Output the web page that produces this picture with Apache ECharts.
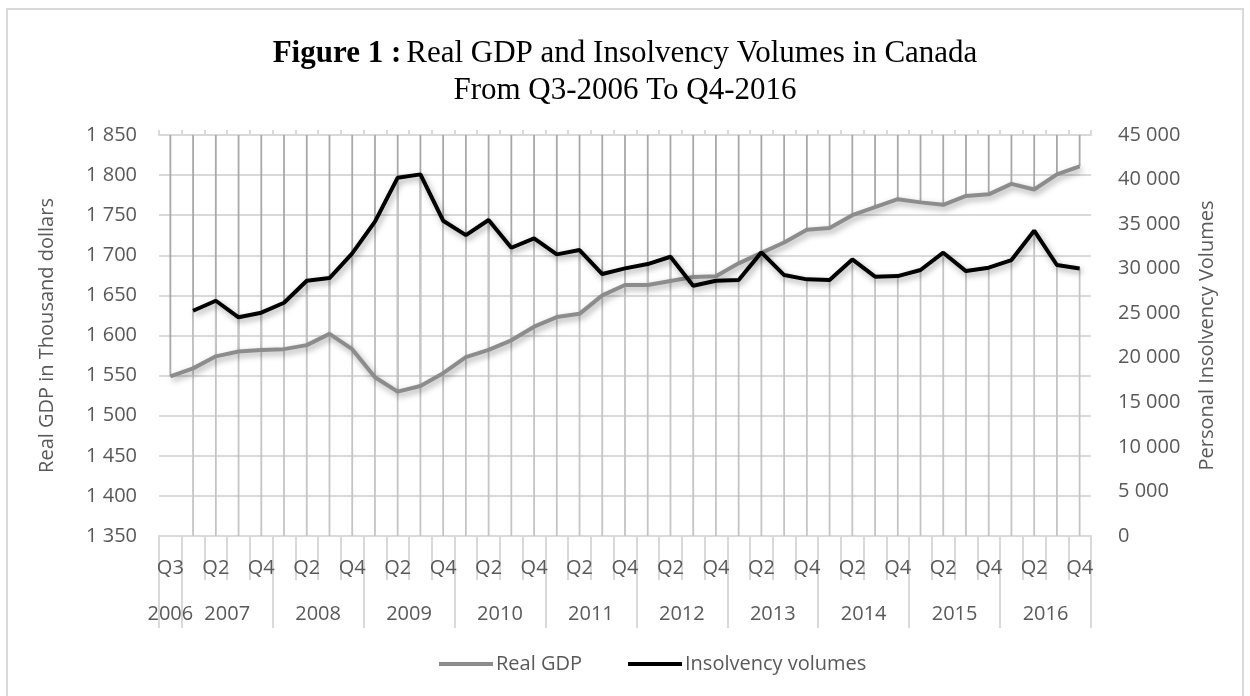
<!DOCTYPE html>
<html><head><meta charset="utf-8">
<script src="https://cdn.jsdelivr.net/npm/echarts@6/dist/echarts.min.js"></script>
<style>
html,body{margin:0;padding:0;background:#fff;}
#frame{position:absolute;left:6px;top:8px;width:1238px;height:700px;border:2px solid #d9d9d9;box-sizing:border-box;}
#chart{position:absolute;left:0;top:0;width:1250px;height:696px;}
</style>
</head><body>
<div id="frame"></div>
<div id="chart"></div>
<script>
// ---- data ----
const quarters = ['Q3',
  'Q1','Q2','Q3','Q4', 'Q1','Q2','Q3','Q4', 'Q1','Q2','Q3','Q4', 'Q1','Q2','Q3','Q4',
  'Q1','Q2','Q3','Q4', 'Q1','Q2','Q3','Q4', 'Q1','Q2','Q3','Q4', 'Q1','Q2','Q3','Q4',
  'Q1','Q2','Q3','Q4', 'Q1','Q2','Q3','Q4'];
const years = ['2006','2007','2008','2009','2010','2011','2012','2013','2014','2015','2016'];
const realGDP = [1549, 1559, 1574, 1580, 1582, 1583, 1588, 1602, 1583, 1548,
  1530, 1537, 1553, 1573, 1582, 1594, 1611, 1623, 1627, 1650,
  1663, 1663, 1668, 1673, 1674, 1690, 1703, 1716, 1732, 1734,
  1750, 1760, 1770, 1766, 1763, 1774, 1776, 1789, 1782, 1801, 1811];
const insolvency = [null, 25280, 26400, 24540, 25060, 26180, 28650, 28950, 31720, 35270,
  40210, 40580, 35380, 33770, 35460, 32350, 33400, 31600, 32090, 29400,
  30030, 30520, 31340, 28090, 28650, 28720, 31830, 29280, 28800, 28720,
  31040, 29100, 29170, 29850, 31790, 29730, 30110, 30970, 34260, 30410, 30030];
const leftTicks = {min: 1350, max: 1850, step: 50};
const rightTicks = {min: 0, max: 45000, step: 5000};
const titleBold = 'Figure 1 :';
const titleLine1 = 'Real GDP and Insolvency Volumes in Canada';
const titleLine2 = 'From Q3-2006 To Q4-2016';

// ---- derived year spans ----
const starts = [];
quarters.forEach((q, i) => { if (i === 0 || q === 'Q1') starts.push(i); });
const bounds = starts.concat([quarters.length]);
const yearCenters = starts.map((s, k) => (s + bounds[k + 1]) / 2);

const fmt = v => String(v).replace(/\B(?=(\d{3})+(?!\d))/g, ' ');
const axisGray = '#d9d9d9';
const txt = '#595959';
const font = 'Open Sans';

const chart = echarts.init(document.getElementById('chart'), null, {renderer: 'canvas'});

function barItem(toTop) {
  return function (params, api) {
    const v = api.value(1);
    const p = api.coord([api.value(0), v]);
    const cs = params.coordSys;
    const yEnd = toTop ? cs.y : cs.y + cs.height;
    return {
      type: 'line',
      shape: {x1: p[0], y1: p[1], x2: p[0], y2: yEnd},
      style: {stroke: toTop ? '#a8a8a8' : '#c4c4c4', lineWidth: 1.8}
    };
  };
}

const gdpBars = realGDP.map((v, i) => [i, v]).filter(d => d[1] != null);
const insBars = insolvency.map((v, i) => [i, v]).filter(d => d[1] != null);

const lineShadow = {shadowColor: 'rgba(0,0,0,0.35)', shadowBlur: 6, shadowOffsetX: 2, shadowOffsetY: 3};
const serif = {fontFamily: 'Liberation Serif', fontSize: 31, color: '#000', lineHeight: 37};

chart.setOption({
  animation: false,
  backgroundColor: 'transparent',
  title: [
    {
      left: 'center', top: 30,
      text: '{b|' + titleBold + '} {n|' + titleLine1 + '}',
      textStyle: {rich: {
        b: Object.assign({fontWeight: 'bold'}, serif),
        n: Object.assign({fontWeight: 'normal'}, serif)
      }}
    },
    {
      left: 'center', top: 67,
      text: titleLine2,
      textStyle: Object.assign({fontWeight: 'normal'}, serif)
    }
  ],
  grid: {left: 159, right: 159, top: 135, bottom: 160, containLabel: false},
  legend: {
    data: ['Real GDP', 'Insolvency volumes'],
    left: 434, top: 649,
    icon: 'rect', itemWidth: 54, itemHeight: 4, itemGap: 46,
    textStyle: {fontFamily: font, fontSize: 20, color: txt, padding: [0, 0, 0, -2]}
  },
  xAxis: [
    {
      type: 'category', data: quarters, position: 'bottom', boundaryGap: true,
      axisLine: {lineStyle: {color: axisGray, width: 2}},
      axisTick: {show: true, interval: 0, length: 44, lineStyle: {color: axisGray, width: 2}},
      axisLabel: {interval: 1, margin: 22, fontFamily: font, fontSize: 20, color: txt},
      splitLine: {show: false}
    },
    {
      type: 'value', position: 'bottom', min: 0, max: quarters.length,
      axisLine: {show: false},
      axisTick: {show: true, customValues: bounds, length: 92, lineStyle: {color: axisGray, width: 2}},
      axisLabel: {
        customValues: yearCenters, margin: 68, fontFamily: font, fontSize: 20, color: txt,
        formatter: v => { const k = yearCenters.indexOf(v); return k >= 0 ? years[k] : ''; }
      },
      splitLine: {show: false}
    },
    {
      type: 'category', data: quarters, position: 'top', boundaryGap: true,
      axisLine: {lineStyle: {color: axisGray, width: 2}},
      axisTick: {show: true, interval: 0, length: 5, lineStyle: {color: axisGray, width: 2}},
      axisLabel: {show: false},
      splitLine: {show: false}
    }
  ],
  yAxis: [
    {
      type: 'value', position: 'left', min: leftTicks.min, max: leftTicks.max, interval: leftTicks.step,
      name: 'Real GDP in Thousand dollars', nameLocation: 'middle', nameGap: 102, nameRotate: 90,
      nameTextStyle: {fontFamily: font, fontSize: 20, color: txt},
      axisLine: {show: false}, axisTick: {show: false},
      axisLabel: {margin: 22, fontFamily: font, fontSize: 20, color: txt, formatter: fmt},
      splitLine: {show: true, lineStyle: {color: axisGray, width: 2}}
    },
    {
      type: 'value', position: 'right', min: rightTicks.min, max: rightTicks.max, interval: rightTicks.step,
      name: 'Personal Insolvency Volumes', nameLocation: 'middle', nameGap: 106, nameRotate: 90,
      nameTextStyle: {fontFamily: font, fontSize: 20, color: txt},
      axisLine: {show: false}, axisTick: {show: false},
      axisLabel: {margin: 27, fontFamily: font, fontSize: 20, color: txt, formatter: fmt},
      splitLine: {show: false}
    }
  ],
  series: [
    {
      type: 'custom', name: 'gdpBars', xAxisIndex: 0, yAxisIndex: 0, data: gdpBars,
      renderItem: barItem(true), silent: true, z: 1, clip: false
    },
    {
      type: 'custom', name: 'insBars', xAxisIndex: 0, yAxisIndex: 1, data: insBars,
      renderItem: barItem(false), silent: true, z: 1, clip: false
    },
    {
      type: 'line', name: 'Real GDP', xAxisIndex: 0, yAxisIndex: 0, data: realGDP,
      showSymbol: false, symbol: 'none', z: 3,
      lineStyle: Object.assign({color: '#8c8c8c', width: 4}, lineShadow),
      itemStyle: {color: '#8c8c8c'}
    },
    {
      type: 'line', name: 'Insolvency volumes', xAxisIndex: 0, yAxisIndex: 1, data: insolvency,
      showSymbol: false, symbol: 'none', z: 4,
      lineStyle: Object.assign({color: '#000000', width: 4}, lineShadow),
      itemStyle: {color: '#000000'}
    }
  ]
});
</script>
</body></html>
